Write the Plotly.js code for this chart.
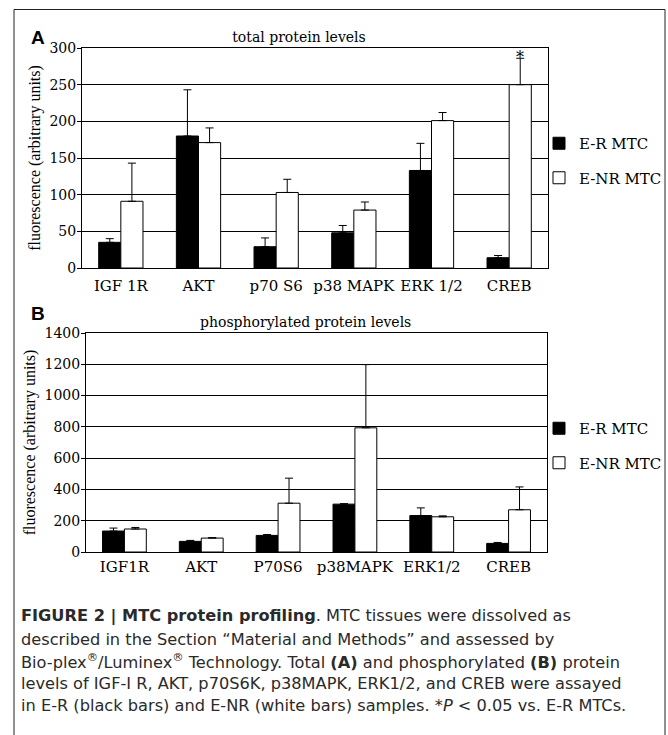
<!DOCTYPE html>
<html><head><meta charset="utf-8">
<script src="https://cdn.plot.ly/plotly-3.0.1.min.js"></script>
<style>html,body{margin:0;padding:0;background:#fff;}</style>
</head><body><div id="chart" style="width:668px;height:735px;"></div>
<script>
// ---- data ----
const seriesNames = ["E-R MTC", "E-NR MTC"];

const categoriesA = ["IGF 1R", "AKT", "p70 S6", "p38 MAPK", "ERK 1/2", "CREB"];
const erTotal      = [35, 180, 29, 48, 133, 14];
const erTotalErr   = [5, 63, 12, 10, 37, 3];
const enrTotal     = [91, 171, 103, 79, 201, 250];
const enrTotalErr  = [52, 20, 18, 11, 11, 36];

const categoriesB = ["IGF1R", "AKT", "P70S6", "p38MAPK", "ERK1/2", "CREB"];
const erPhospho     = [134, 68, 106, 306, 233, 55];
const erPhosphoErr  = [19, 6, 6, 3, 49, 6];
const enrPhospho    = [147, 89, 312, 794, 225, 270];
const enrPhosphoErr = [10, 3, 160, 404, 6, 146];

const noErr = [0, 0, 0, 0, 0, 0];

const titleA = "total protein levels";
const titleB = "phosphorylated protein levels";
const yTitle = "fluorescence (arbitrary units)";
const captionLines = [
  "<b>FIGURE 2 | MTC protein profiling</b>. MTC tissues were dissolved as",
  "described in the Section \u201cMaterial and Methods\u201d and assessed by",
  "Bio-plex<sup>\u00ae</sup>/Luminex<sup>\u00ae</sup> Technology. Total <b>(A)</b> and phosphorylated <b>(B)</b> protein",
  "levels of IGF-I R, AKT, p70S6K, p38MAPK, ERK1/2, and CREB were assayed",
  "in E-R (black bars) and E-NR (white bars) samples. *<i>P</i> &lt; 0.05 vs. E-R MTCs."
];

// ---- geometry helpers (pixels -> paper) ----
const W = 668, H = 735;
const px = p => p / W;
const py = p => 1 - p / H;

const serif = "DejaVu Serif";
const lineStyle = {color: "black", width: 1};

function bar(x, y, err, name, fill, xa, ya, legend) {
  return {
    type: "bar", x: x, y: y, name: name,
    xaxis: xa, yaxis: ya, legend: legend, legendgroup: legend + name,
    marker: {color: fill, line: lineStyle},
    error_y: {type: "data", symmetric: false, array: err, arrayminus: noErr,
              color: "black", thickness: 1, width: 4},
    hoverinfo: "skip"
  };
}

const data = [
  bar(categoriesA, erTotal, erTotalErr, seriesNames[0], "black", "x", "y", "legend"),
  bar(categoriesA, enrTotal, enrTotalErr, seriesNames[1], "white", "x", "y", "legend"),
  bar(categoriesB, erPhospho, erPhosphoErr, seriesNames[0], "black", "x2", "y2", "legend2"),
  bar(categoriesB, enrPhospho, enrPhosphoErr, seriesNames[1], "white", "x2", "y2", "legend2")
];

const xAxisBase = {
  type: "category", showline: true, mirror: true, linecolor: "black", linewidth: 1,
  ticks: "", showgrid: false, zeroline: false,
  tickfont: {family: serif, size: 15, color: "black"}, fixedrange: true
};
const yAxisBase = {
  showline: true, mirror: true, linecolor: "black", linewidth: 1,
  ticks: "outside", ticklen: 4, tickcolor: "black", tickwidth: 1, ticklabelstandoff: -2,
  showgrid: true, gridcolor: "black", gridwidth: 1, zeroline: false,
  tickfont: {family: serif, size: 14, color: "black"}, fixedrange: true,
  title: {text: yTitle, font: {family: "Liberation Serif", size: 16, color: "black"}, standoff: 4}
};

const legendBase = {
  bgcolor: "rgba(0,0,0,0)", borderwidth: 0, traceorder: "grouped", tracegroupgap: 12,
  font: {family: serif, size: 15, color: "black"}, xanchor: "left", yanchor: "top",
  itemclick: false, itemdoubleclick: false
};

const captionFont = {family: "DejaVu Sans", size: 16.2, color: "#2a2a2a"};
const captionY = [616, 639, 661, 683, 705];

const annotations = [
  {text: "<b>A</b>", x: px(38), y: py(37), xref: "paper", yref: "paper", showarrow: false,
   xanchor: "center", yanchor: "middle",
   font: {family: "Liberation Sans", size: 19, color: "black"}},
  {text: "<b>B</b>", x: px(38), y: py(313), xref: "paper", yref: "paper", showarrow: false,
   xanchor: "center", yanchor: "middle",
   font: {family: "Liberation Sans", size: 19, color: "black"}},
  {text: titleB, x: px(305), y: py(322), xref: "paper", yref: "paper", showarrow: false,
   xanchor: "center", yanchor: "middle",
   font: {family: serif, size: 14, color: "black"}},
  {text: "*", x: categoriesA[5], y: enrTotal[5] + enrTotalErr[5], xref: "x", yref: "y",
   xshift: 11, yshift: -11, yanchor: "bottom", xanchor: "center", showarrow: false,
   font: {family: serif, size: 16, color: "black"}}
].concat(captionLines.map((t, i) => ({
  text: t, x: px(19), y: py(captionY[i]), xref: "paper", yref: "paper",
  xanchor: "left", yanchor: "middle", align: "left", showarrow: false, font: captionFont
})));

const layout = {
  width: W, height: H,
  margin: {l: 0, r: 0, t: 0, b: 0},
  paper_bgcolor: "white", plot_bgcolor: "white",
  font: {family: serif, color: "black"},
  barmode: "group", bargap: 0.43, bargroupgap: 0,
  title: {text: titleA, x: px(299), y: py(37), xref: "paper", yref: "paper",
          xanchor: "center", yanchor: "middle", font: {family: serif, size: 14, color: "black"}},
  xaxis: Object.assign({}, xAxisBase, {domain: [px(82), px(548)], anchor: "y", ticklabelstandoff: 4}),
  yaxis: Object.assign({}, yAxisBase, {domain: [py(268), py(48)], anchor: "x", range: [0, 300], dtick: 50}),
  xaxis2: Object.assign({}, xAxisBase, {domain: [px(86), px(547)], anchor: "y2", ticklabelstandoff: 1}),
  yaxis2: Object.assign({}, yAxisBase, {domain: [py(552), py(333)], anchor: "x2", range: [0, 1400], dtick: 200}),
  showlegend: true,
  legend: Object.assign({}, legendBase, {x: px(539), y: py(127)}),
  legend2: Object.assign({}, legendBase, {x: px(539), y: py(412)}),
  annotations: annotations,
  shapes: [
    {type: "rect", xref: "paper", yref: "paper", x0: px(14), x1: px(665), y0: -0.05, y1: py(9.5),
     line: {color: "#222", width: 1}, fillcolor: "rgba(0,0,0,0)", layer: "above"}
  ]
};

Plotly.newPlot("chart", data, layout, {displayModeBar: false, staticPlot: true});
</script>
</body></html>
